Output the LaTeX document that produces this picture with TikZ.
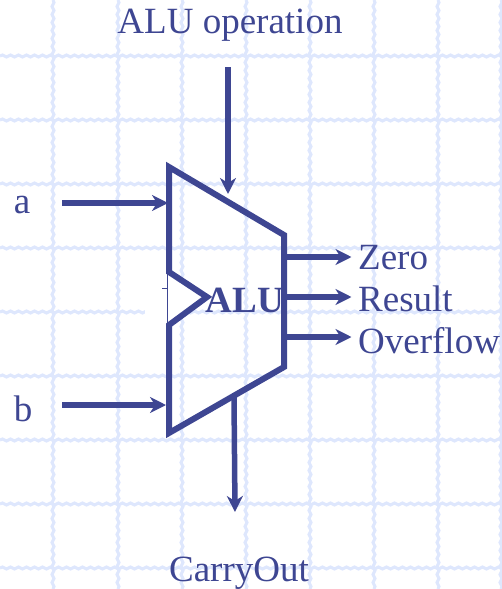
\documentclass[tikz,border=0pt]{standalone}
\usepackage{fontspec}
\setmainfont{Liberation Serif}
\usetikzlibrary{arrows.meta, decorations.pathmorphing}
\definecolor{aluBlue}{RGB}{62,70,146}
\definecolor{gridBlue}{RGB}{222,231,253}

\begin{document}
\begin{tikzpicture}[x=1pt, y=-1pt,
    caption/.style={text=aluBlue, font=\fontsize{37}{37}\selectfont, inner sep=0pt, anchor=base},
    wire/.style={-{Stealth[length=16pt, width=16pt, inset=5pt]}, line width=5.5pt, aluBlue},
    outwire/.style={wire, shorten >=6.5pt},
    body/.style={line width=6pt, aluBlue, line join=miter},
    gridline/.style={gridBlue, line width=3pt, decorate, decoration={snake, amplitude=1pt, segment length=8pt}}]
  \useasboundingbox (0,0) rectangle (502,589);
  % background grid
  \foreach \gx in {53,118,182,246,310,374,438,501}
    \draw[gridline] (\gx,0) -- (\gx,589);
  \foreach \gy in {56,120,184,248,312,376,440,504,568}
    \draw[gridline] (0,\gy) -- (502,\gy);

  % alu outline
  \coordinate (topleft) at (169,167);
  \coordinate (topright) at (284,235);
  \coordinate (botright) at (284,367);
  \coordinate (botleft) at (169,433);
  \coordinate (notchtop) at (169,272);
  \coordinate (notchtip) at (207,297);
  \coordinate (notchbot) at (169,325);
  \fill[white] (145,292) rectangle (169,330);
  \fill[white] (notchtop) -- (notchtip) -- (notchbot) -- cycle;
  \draw[body] (notchtop) -- (topleft) -- (topright) -- (botright) -- (botleft) -- (notchbot) -- (notchtip) -- cycle;
  \draw[aluBlue, line width=1pt] (167,268) -- (167,328);
  \draw[aluBlue, line width=1pt] (162,288) -- (167,288);
  \node[caption, font=\fontsize{37}{37}\selectfont\bfseries] (alu) at (245,312) {ALU};

  % labels
  \node[caption] (op) at (230,33) {ALU operation};
  \node[caption] (a) at (22,213) {a};
  \node[caption] (b) at (23,421) {b};
  \node[caption, anchor=base west] (zero) at (358,269) {Zero};
  \node[caption, anchor=base west] (result) at (358,311) {Result};
  \node[caption, anchor=base west] (overflow) at (358,353) {Overflow};
  \node[caption] (carry) at (239,581) {CarryOut};

  % connectors
  \coordinate (opstart) at (228,67);
  \coordinate (opend) at (228,194);
  \coordinate (astart) at (62,203);
  \coordinate (aend) at (168,203);
  \coordinate (bstart) at (62,405);
  \coordinate (bend) at (166,405);
  \coordinate (zstart) at (284,257);
  \coordinate (rstart) at (284,297);
  \coordinate (ostart) at (284,337);
  \coordinate (cstart) at (234,397);
  \coordinate (cend) at (235,512);
  \draw[wire] (opstart) -- (opend);
  \draw[wire] (astart) -- (aend);
  \draw[wire] (bstart) -- (bend);
  \draw[outwire] (zstart) -- (zstart -| zero.west);
  \draw[outwire] (rstart) -- (rstart -| result.west);
  \draw[outwire] (ostart) -- (ostart -| overflow.west);
  \draw[wire] (cstart) -- (cend);
\end{tikzpicture}
\end{document}
